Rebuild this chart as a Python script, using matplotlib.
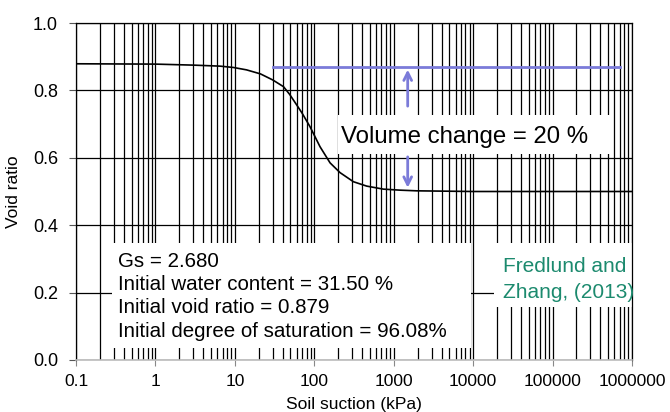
import matplotlib
matplotlib.use("Agg")
import matplotlib.pyplot as plt
from matplotlib.patches import Rectangle
from matplotlib.ticker import FixedLocator, NullFormatter

plt.rcParams['font.family'] = ['Liberation Sans', 'DejaVu Sans']

# ---- data ----
suction = [0.1, 1, 3, 6.5, 9.6, 14, 21, 30, 41, 49, 60, 70, 88, 118, 158, 211, 311, 457, 741,
           1200, 1950, 10000, 100000, 1000000]
void_ratio = [0.879, 0.878, 0.875, 0.872, 0.868, 0.861, 0.849, 0.831, 0.811, 0.788, 0.757, 0.733,
              0.693, 0.633, 0.585, 0.556, 0.529, 0.516, 0.507, 0.504, 0.502, 0.500, 0.500, 0.500]

x_ticks = [0.1, 1, 10, 100, 1000, 10000, 100000, 1000000]
x_tick_labels = ['0.1', '1', '10', '100', '1000', '10000', '100000', '1000000']
y_ticks = [0.0, 0.2, 0.4, 0.6, 0.8, 1.0]
y_tick_labels = ['0.0', '0.2', '0.4', '0.6', '0.8', '1.0']

initial_line_y = 0.87
initial_line_x = [30, 700000]
arrow_x = 1500
arrow_up = (0.745, 0.87)
arrow_down = (0.611, 0.503)

info_lines = ['Gs = 2.680',
              'Initial water content = 31.50 %',
              'Initial void ratio = 0.879',
              'Initial degree of saturation = 96.08%']
volume_text = 'Volume change = 20 %'
source_lines = ['Fredlund and', 'Zhang, (2013)']

PURPLE = '#7b7bd9'
TEAL = '#1c8a6e'

W, H = 670, 412
fig = plt.figure(figsize=(W / 100, H / 100), dpi=100)
L, R, T, B = 76, 632, 23, 360
ax = fig.add_axes([L / W, 1 - B / H, (R - L) / W, (B - T) / H])


def ax_x(px):
    return (px - L) / (R - L)


def ax_y(py):
    return (B - py) / (B - T)


ax.set_xscale('log')
ax.set_xlim(0.1, 1e6)
ax.set_ylim(0, 1.0)

minor = [m * 10.0 ** e for e in range(-1, 6) for m in range(2, 10)]
ax.xaxis.set_major_locator(FixedLocator(x_ticks))
ax.set_xticklabels(x_tick_labels)
ax.xaxis.set_minor_locator(FixedLocator(minor))
ax.xaxis.set_minor_formatter(NullFormatter())
ax.set_yticks(y_ticks)
ax.set_yticklabels(y_tick_labels)

ax.set_axisbelow(True)
ax.grid(True, which='both', axis='x', color='black', linewidth=0.9)
ax.grid(True, which='major', axis='y', color='black', linewidth=0.9)

ax.tick_params(axis='x', which='major', direction='out', length=4, color='#888888',
               labelsize=12.5, pad=6)
ax.tick_params(axis='x', which='minor', length=0)
ax.tick_params(axis='y', direction='out', length=5, color='#555555', labelsize=13, pad=8)

for s in ['left', 'top', 'right']:
    ax.spines[s].set_color('black')
    ax.spines[s].set_linewidth(0.9)
ax.spines['bottom'].set_color('#bbbbbb')
ax.spines['bottom'].set_linewidth(1.2)

ax.xaxis.set_label_coords(ax_x(354), ax_y(405))
ax.yaxis.set_label_coords(ax_x(14), ax_y(200))
ax.set_xlabel('Soil suction (kPa)', fontsize=12.5, va='center')
ax.set_ylabel('Void ratio', fontsize=12.5, va='center')

# white boxes covering the grid
boxes = [
    (112, 243, 471, 348),   # info box
    (338, 115, 611, 154),   # volume change box
    (494, 243, 642, 307),   # source box
]
for x0, y0, x1, y1 in boxes:
    ax.add_patch(Rectangle((ax_x(x0), ax_y(y1)), ax_x(x1) - ax_x(x0), ax_y(y0) - ax_y(y1),
                           transform=ax.transAxes, facecolor='white', edgecolor='none',
                           zorder=2, clip_on=False))

# curve
ax.plot(suction, void_ratio, color='black', linewidth=1.2, zorder=3)

# initial void ratio line and arrows
ax.plot(initial_line_x, [initial_line_y, initial_line_y], color=PURPLE, linewidth=2, zorder=3)
ax.annotate('', xy=(arrow_x, arrow_up[1]), xytext=(arrow_x, arrow_up[0]),
            arrowprops=dict(arrowstyle='->', color=PURPLE, lw=2, mutation_scale=14), zorder=3)
ax.annotate('', xy=(arrow_x, arrow_down[1]), xytext=(arrow_x, arrow_down[0]),
            arrowprops=dict(arrowstyle='->', color=PURPLE, lw=2, mutation_scale=14), zorder=3)

# texts
ax.text(ax_x(341), ax_y(142.7), volume_text, transform=ax.transAxes, fontsize=17.3,
        va='baseline', ha='left', zorder=4)
for i, line in enumerate(info_lines):
    ax.text(ax_x(118), ax_y(266.7 + 23.3 * i), line, transform=ax.transAxes, fontsize=14.8,
            va='baseline', ha='left', zorder=4)
for i, line in enumerate(source_lines):
    ax.text(ax_x(503), ax_y(271.7 + 26.6 * i), line, transform=ax.transAxes, fontsize=15,
            va='baseline', ha='left', color=TEAL, zorder=4, clip_on=False)

fig.savefig('out.png', dpi=100)
